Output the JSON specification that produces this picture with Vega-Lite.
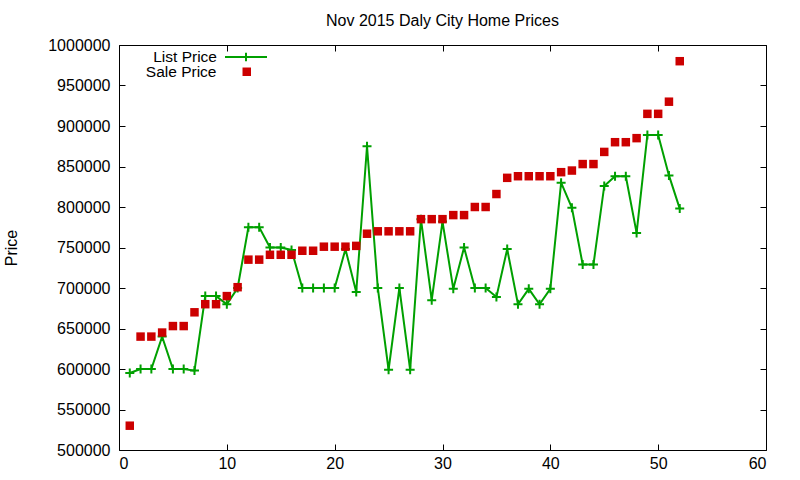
{
  "$schema": "https://vega.github.io/schema/vega-lite/v6.json",
  "width": 647,
  "height": 405,
  "autosize": {"type": "none"},
  "padding": {"left": 119, "top": 45, "right": 34, "bottom": 30},
  "background": "white",
  "title": {
    "text": "Nov 2015 Daly City Home Prices",
    "font": "Liberation Sans",
    "fontSize": 16,
    "fontWeight": "normal",
    "color": "black",
    "anchor": "middle",
    "baseline": "alphabetic",
    "offset": -7
  },
  "config": {
    "view": {"stroke": "black", "strokeWidth": 1},
    "axis": {
      "labelFont": "Liberation Sans",
      "labelFontSize": 16,
      "labelColor": "black",
      "titleFont": "Liberation Sans",
      "titleFontSize": 16,
      "titleFontWeight": "normal",
      "titleColor": "black",
      "tickColor": "black",
      "tickSize": -6,
      "domainColor": "black",
      "gridColor": "#a0a0a0",
      "gridDash": [3, 3],
      "gridWidth": 1
    },
    "legend": {
      "title": null,
      "orient": "none",
      "direction": "vertical",
      "padding": 0,
      "rowPadding": 0,
      "labelFont": "Liberation Sans",
      "labelFontSize": 15.5,
      "labelColor": "black",
      "labelAlign": "right",
      "labelBaseline": "middle"
    }
  },
  "data": {
    "values": [
      {"n": 1, "series": "List Price", "price": 595000},
      {"n": 2, "series": "List Price", "price": 600000},
      {"n": 3, "series": "List Price", "price": 600000},
      {"n": 4, "series": "List Price", "price": 640000},
      {"n": 5, "series": "List Price", "price": 600000},
      {"n": 6, "series": "List Price", "price": 600000},
      {"n": 7, "series": "List Price", "price": 598000},
      {"n": 8, "series": "List Price", "price": 690000},
      {"n": 9, "series": "List Price", "price": 690000},
      {"n": 10, "series": "List Price", "price": 680000},
      {"n": 11, "series": "List Price", "price": 700000},
      {"n": 12, "series": "List Price", "price": 775000},
      {"n": 13, "series": "List Price", "price": 775000},
      {"n": 14, "series": "List Price", "price": 750000},
      {"n": 15, "series": "List Price", "price": 750000},
      {"n": 16, "series": "List Price", "price": 747000},
      {"n": 17, "series": "List Price", "price": 700000},
      {"n": 18, "series": "List Price", "price": 700000},
      {"n": 19, "series": "List Price", "price": 700000},
      {"n": 20, "series": "List Price", "price": 700000},
      {"n": 21, "series": "List Price", "price": 748000},
      {"n": 22, "series": "List Price", "price": 695000},
      {"n": 23, "series": "List Price", "price": 875000},
      {"n": 24, "series": "List Price", "price": 700000},
      {"n": 25, "series": "List Price", "price": 599000},
      {"n": 26, "series": "List Price", "price": 700000},
      {"n": 27, "series": "List Price", "price": 599000},
      {"n": 28, "series": "List Price", "price": 785000},
      {"n": 29, "series": "List Price", "price": 685000},
      {"n": 30, "series": "List Price", "price": 782000},
      {"n": 31, "series": "List Price", "price": 699000},
      {"n": 32, "series": "List Price", "price": 750000},
      {"n": 33, "series": "List Price", "price": 700000},
      {"n": 34, "series": "List Price", "price": 700000},
      {"n": 35, "series": "List Price", "price": 689000},
      {"n": 36, "series": "List Price", "price": 748000},
      {"n": 37, "series": "List Price", "price": 680000},
      {"n": 38, "series": "List Price", "price": 699000},
      {"n": 39, "series": "List Price", "price": 680000},
      {"n": 40, "series": "List Price", "price": 699000},
      {"n": 41, "series": "List Price", "price": 830000},
      {"n": 42, "series": "List Price", "price": 799000},
      {"n": 43, "series": "List Price", "price": 729000},
      {"n": 44, "series": "List Price", "price": 729000},
      {"n": 45, "series": "List Price", "price": 826000},
      {"n": 46, "series": "List Price", "price": 838000},
      {"n": 47, "series": "List Price", "price": 838000},
      {"n": 48, "series": "List Price", "price": 768000},
      {"n": 49, "series": "List Price", "price": 889000},
      {"n": 50, "series": "List Price", "price": 889000},
      {"n": 51, "series": "List Price", "price": 839000},
      {"n": 52, "series": "List Price", "price": 798000},
      {"n": 1, "series": "Sale Price", "price": 530000},
      {"n": 2, "series": "Sale Price", "price": 640000},
      {"n": 3, "series": "Sale Price", "price": 640000},
      {"n": 4, "series": "Sale Price", "price": 645000},
      {"n": 5, "series": "Sale Price", "price": 653000},
      {"n": 6, "series": "Sale Price", "price": 653000},
      {"n": 7, "series": "Sale Price", "price": 670000},
      {"n": 8, "series": "Sale Price", "price": 680000},
      {"n": 9, "series": "Sale Price", "price": 680000},
      {"n": 10, "series": "Sale Price", "price": 690000},
      {"n": 11, "series": "Sale Price", "price": 701000},
      {"n": 12, "series": "Sale Price", "price": 735000},
      {"n": 13, "series": "Sale Price", "price": 735000},
      {"n": 14, "series": "Sale Price", "price": 741000},
      {"n": 15, "series": "Sale Price", "price": 741000},
      {"n": 16, "series": "Sale Price", "price": 741000},
      {"n": 17, "series": "Sale Price", "price": 746000},
      {"n": 18, "series": "Sale Price", "price": 746000},
      {"n": 19, "series": "Sale Price", "price": 751000},
      {"n": 20, "series": "Sale Price", "price": 751000},
      {"n": 21, "series": "Sale Price", "price": 751000},
      {"n": 22, "series": "Sale Price", "price": 752000},
      {"n": 23, "series": "Sale Price", "price": 767000},
      {"n": 24, "series": "Sale Price", "price": 770000},
      {"n": 25, "series": "Sale Price", "price": 770000},
      {"n": 26, "series": "Sale Price", "price": 770000},
      {"n": 27, "series": "Sale Price", "price": 770000},
      {"n": 28, "series": "Sale Price", "price": 785000},
      {"n": 29, "series": "Sale Price", "price": 785000},
      {"n": 30, "series": "Sale Price", "price": 785000},
      {"n": 31, "series": "Sale Price", "price": 790000},
      {"n": 32, "series": "Sale Price", "price": 790000},
      {"n": 33, "series": "Sale Price", "price": 800000},
      {"n": 34, "series": "Sale Price", "price": 800000},
      {"n": 35, "series": "Sale Price", "price": 816000},
      {"n": 36, "series": "Sale Price", "price": 836000},
      {"n": 37, "series": "Sale Price", "price": 838000},
      {"n": 38, "series": "Sale Price", "price": 838000},
      {"n": 39, "series": "Sale Price", "price": 838000},
      {"n": 40, "series": "Sale Price", "price": 838000},
      {"n": 41, "series": "Sale Price", "price": 843000},
      {"n": 42, "series": "Sale Price", "price": 845000},
      {"n": 43, "series": "Sale Price", "price": 853000},
      {"n": 44, "series": "Sale Price", "price": 853000},
      {"n": 45, "series": "Sale Price", "price": 868000},
      {"n": 46, "series": "Sale Price", "price": 880000},
      {"n": 47, "series": "Sale Price", "price": 880000},
      {"n": 48, "series": "Sale Price", "price": 885000},
      {"n": 49, "series": "Sale Price", "price": 915000},
      {"n": 50, "series": "Sale Price", "price": 915000},
      {"n": 51, "series": "Sale Price", "price": 930000},
      {"n": 52, "series": "Sale Price", "price": 980000}
    ]
  },
  "encoding": {
    "x": {"field": "n", "type": "quantitative", "scale": {"domain": [0, 60], "nice": false, "zero": false}},
    "y": {"field": "price", "type": "quantitative", "scale": {"domain": [500000, 1000000], "nice": false, "zero": false}}
  },
  "layer": [
    {
      "transform": [{"filter": "datum.series === 'List Price'"}],
      "mark": {"type": "line", "color": "#00a000", "strokeWidth": 2},
      "encoding": {
        "x": {"field": "n", "type": "quantitative", "axis": {"orient": "top", "labels": false, "grid": false, "domain": false, "title": null, "values": [0,10,20,30,40,50,60]}},
        "y": {"field": "price", "type": "quantitative", "axis": {"orient": "right", "labels": false, "grid": false, "domain": false, "title": null, "values": [500000,550000,600000,650000,700000,750000,800000,850000,900000,950000,1000000]}}
      }
    },
    {
      "transform": [{"filter": "datum.series === 'List Price'"}],
      "mark": {"type": "point", "filled": false, "strokeWidth": 2, "size": 81, "opacity": 1, "shape": "M-1,0H1M0,-1V1"},
      "encoding": {
        "x": {"field": "n", "type": "quantitative", "axis": {"orient": "bottom", "title": null, "values": [0,10,20,30,40,50,60], "labelPadding": 11, "domain": false}},
        "y": {"field": "price", "type": "quantitative", "axis": {"orient": "left", "title": "Price", "titleX": -100, "titleAngle": -90, "titleBaseline": "bottom", "values": [500000,550000,600000,650000,700000,750000,800000,850000,900000,950000,1000000], "format": "d", "labelPadding": 15, "domain": false}},
        "stroke": {
          "field": "series", "type": "nominal",
          "scale": {"domain": ["List Price"], "range": ["#00a000"]},
          "legend": {
            "legendX": 105,
            "legendY": -10,
            "symbolType": "M-1,0H1M0,-0.2V0.2",
            "symbolSize": 1764,
            "symbolStrokeWidth": 2,
            "symbolFillColor": "transparent",
            "labelOffset": -51
          }
        }
      }
    },
    {
      "transform": [{"filter": "datum.series === 'Sale Price'"}],
      "mark": {"type": "point", "filled": true, "size": 72, "opacity": 1, "shape": "square"},
      "encoding": {
        "x": {"field": "n", "type": "quantitative", "axis": null},
        "y": {"field": "price", "type": "quantitative", "axis": null},
        "fill": {
          "field": "series", "type": "nominal",
          "scale": {"domain": ["Sale Price"], "range": ["#cc0000"]},
          "legend": {
            "legendX": 120,
            "legendY": 19,
            "symbolType": "square",
            "symbolSize": 72,
            "symbolStrokeWidth": 0,
            "labelOffset": -38
          }
        }
      }
    }
  ],
  "resolve": {"axis": {"x": "independent", "y": "independent"}}
}
